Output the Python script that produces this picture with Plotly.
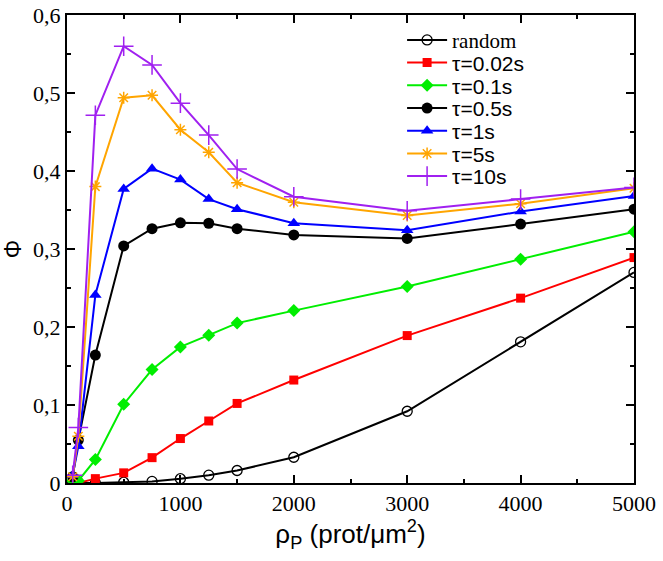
import plotly.graph_objects as go

rho = [50, 100, 250, 500, 750, 1000, 1250, 1500, 2000, 3000, 4000, 5000]

phi_random = [0.0, 0.0, 0.0, 0.001, 0.002, 0.0055, 0.010, 0.016, 0.033, 0.092, 0.181, 0.270]
phi_tau002 = [0.001, 0.0, 0.0056, 0.013, 0.0325, 0.057, 0.0795, 0.102, 0.132, 0.189, 0.237, 0.289]
phi_tau01 = [0.003, 0.003, 0.030, 0.101, 0.1455, 0.1745, 0.1895, 0.205, 0.221, 0.252, 0.287, 0.322]
phi_tau05 = [0.008, 0.055, 0.164, 0.304, 0.326, 0.3335, 0.333, 0.326, 0.318, 0.3135, 0.332, 0.351]
phi_tau1 = [0.010, 0.047, 0.241, 0.377, 0.403, 0.389, 0.364, 0.351, 0.333, 0.324, 0.348, 0.368]
phi_tau5 = [0.008, 0.060, 0.380, 0.494, 0.497, 0.453, 0.424, 0.385, 0.360, 0.343, 0.358, 0.378]
phi_tau10 = [0.010, 0.071, 0.4715, 0.560, 0.536, 0.487, 0.446, 0.4025, 0.367, 0.349, 0.364, 0.379]

series_names = ['<span style="font-family:\'Liberation Serif\'">random</span>',
                "τ=0.02s", "τ=0.1s", "τ=0.5s", "τ=1s", "τ=5s", "τ=10s"]

x_tick_vals = [0, 1000, 2000, 3000, 4000, 5000]
x_tick_text = ["0", "1000", "2000", "3000", "4000", "5000"]
y_tick_vals = [0, 0.1, 0.2, 0.3, 0.4, 0.5, 0.6]
y_tick_text = ["0", "0,1", "0,2", "0,3", "0,4", "0,5", "0,6"]

styles = [
    dict(color="black", symbol="circle-open", size=10, mlw=1.3),
    dict(color="#ff0000", symbol="square", size=9, mlw=0),
    dict(color="#00ee00", symbol="diamond", size=10, mlw=0),
    dict(color="black", symbol="circle", size=11, mlw=0),
    dict(color="#0000ff", symbol="triangle-up", size=11, mlw=0),
    dict(color="#ffa500", symbol="asterisk-open", size=10, mlw=1.5),
    dict(color="#a020f0", symbol="cross-thin-open", size=14, mlw=1.5),
]

data = [phi_random, phi_tau002, phi_tau01, phi_tau05, phi_tau1, phi_tau5, phi_tau10]

fig = go.Figure()
legend_ids = ["legend"] + ["legend%d" % i for i in range(2, 8)]
for name, ys, st, lid in zip(series_names, data, styles, legend_ids):
    fig.add_trace(go.Scatter(
        x=rho, y=ys, name=name, mode="lines+markers", legend=lid,
        line=dict(color=st["color"], width=2),
        marker=dict(symbol=st["symbol"], size=st["size"], color=st["color"],
                    line=dict(color=st["color"], width=st["mlw"])),
    ))

axis_common = dict(
    showline=True, linecolor="black", linewidth=2, mirror="ticks",
    ticks="inside", ticklen=8, tickwidth=1.5, tickcolor="black",
    showgrid=False, zeroline=False, automargin=False,
    tickfont=dict(family="Liberation Serif", size=22, color="black"),
)

legend_common = dict(
    x=0.591, xanchor="left", yanchor="middle",
    bgcolor="rgba(0,0,0,0)", borderwidth=0,
    font=dict(family="Liberation Sans", size=21, color="black"),
    itemwidth=40,
)
legend_layout = {}
for i, lid in enumerate(legend_ids):
    legend_layout[lid] = dict(y=0.946 - i * 0.0485, **legend_common)

fig.update_layout(
    width=663, height=561,
    margin=dict(l=67, r=29, t=15, b=78, autoexpand=False),
    paper_bgcolor="white", plot_bgcolor="white",
    separators=",.",
    xaxis=dict(range=[0, 5000], tickvals=x_tick_vals, ticktext=x_tick_text,
               minor=dict(ticks="inside", dtick=500, ticklen=4, tickwidth=1.5, tickcolor="black"),
               title=dict(text="ρ<sub>P</sub> (prot/μm<sup>2</sup>)",
                          font=dict(family="Liberation Sans", size=26, color="black"), standoff=2),
               **axis_common),
    yaxis=dict(range=[0, 0.6], tickvals=y_tick_vals, ticktext=y_tick_text,
               minor=dict(ticks="inside", dtick=0.05, ticklen=4, tickwidth=1.5, tickcolor="black"),
               title=dict(text="Φ", font=dict(family="Liberation Sans", size=23, color="black"), standoff=8),
               **axis_common),
    showlegend=True,
    **legend_layout,
)

fig.write_html("out.html", config={"displayModeBar": False},
               post_script="document.body.style.margin='0';")
